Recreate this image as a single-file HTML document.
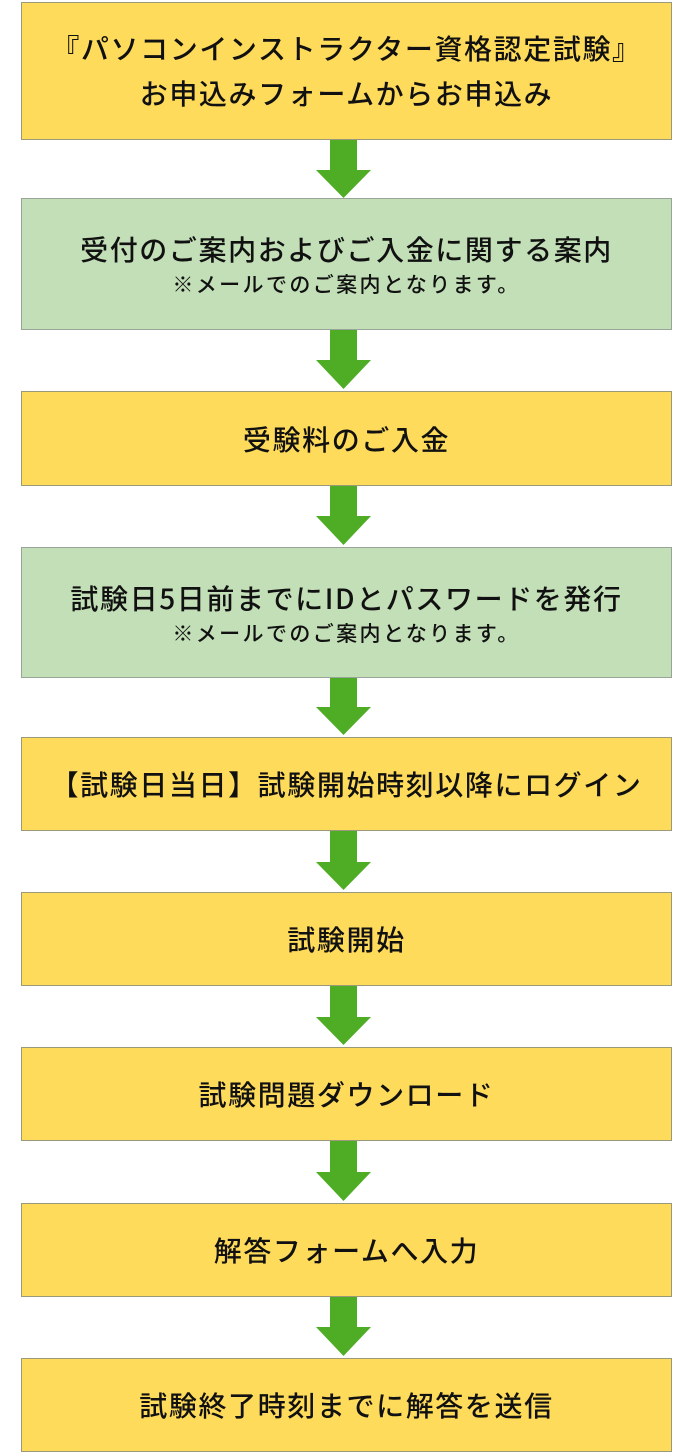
<!DOCTYPE html>
<html><head><meta charset="utf-8"><style>
body{margin:0;width:687px;height:1454px;background:#fff;position:relative;overflow:hidden;font-family:"Noto Sans CJK JP","Liberation Sans",sans-serif;}
.b{position:absolute;left:21px;width:651px;border:1px solid #9a9a7a;display:flex;flex-direction:column;align-items:center;justify-content:center;color:#111;font-weight:500;box-sizing:border-box;}
.y{background:#FFDB5B;}
.g{background:#C3DFB7;border-color:#9aa39a;}
.m{font-size:28px;letter-spacing:1.6px;line-height:40px;white-space:nowrap;}
.s{font-size:21px;letter-spacing:2.4px;line-height:30px;white-space:nowrap;}
svg{position:absolute;left:0;top:0;}
</style></head><body>
<svg width="687" height="1454">
<g fill="#4EAD25">
<polygon points="330,140 357,140 357,170 371,170 343.5,198 316,170 330,170"/>
<polygon points="330,330 357,330 357,360 371,360 343.5,389 316,360 330,360"/>
<polygon points="330,486 357,486 357,516 371,516 343.5,545 316,516 330,516"/>
<polygon points="330,678 357,678 357,707 371,707 343.5,735 316,707 330,707"/>
<polygon points="330,831 357,831 357,862 371,862 343.5,890 316,862 330,862"/>
<polygon points="330,986 357,986 357,1017 371,1017 343.5,1045 316,1017 330,1017"/>
<polygon points="330,1141 357,1141 357,1172 371,1172 343.5,1201 316,1172 330,1172"/>
<polygon points="330,1297 357,1297 357,1327 371,1327 343.5,1356 316,1327 330,1327"/>
</g></svg>
<div class="b y" style="top:2px;height:138px"><div class="m" style="line-height:45px">『パソコンインストラクター資格認定試験』</div><div class="m" style="line-height:45px">お申込みフォームからお申込み</div></div>
<div class="b g" style="top:198px;height:132px"><div class="m">受付のご案内およびご入金に関する案内</div><div class="s">※メールでのご案内となります。</div></div>
<div class="b y" style="top:391px;height:95px"><div class="m">受験料のご入金</div></div>
<div class="b g" style="top:547px;height:131px"><div class="m">試験日5日前までにIDとパスワードを発行</div><div class="s">※メールでのご案内となります。</div></div>
<div class="b y" style="top:737px;height:94px"><div class="m">【試験日当日】試験開始時刻以降にログイン</div></div>
<div class="b y" style="top:892px;height:94px"><div class="m">試験開始</div></div>
<div class="b y" style="top:1047px;height:94px"><div class="m">試験問題ダウンロード</div></div>
<div class="b y" style="top:1203px;height:94px"><div class="m">解答フォームへ入力</div></div>
<div class="b y" style="top:1358px;height:94px"><div class="m">試験終了時刻までに解答を送信</div></div>
</body></html>
